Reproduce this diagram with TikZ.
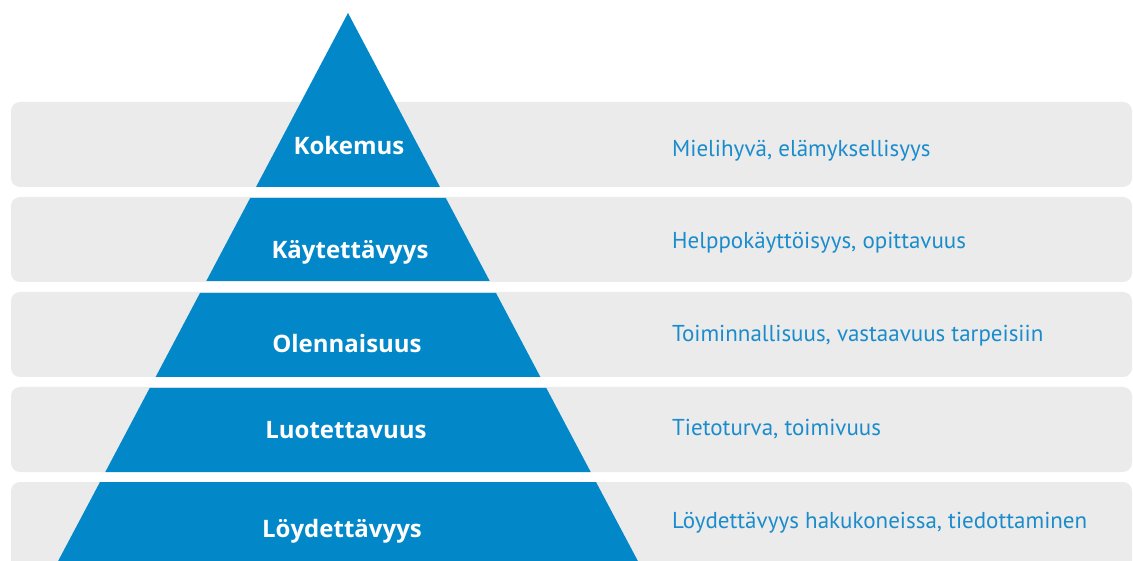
\documentclass[tikz,border=0pt]{standalone}
\usepackage{fontspec}
\setmainfont{PT Sans}
\newfontfamily\lvlfont{Open Sans}
\definecolor{pyrblue}{HTML}{0287C9}
\definecolor{txtblue}{HTML}{1A8CCC}
\definecolor{bandgray}{HTML}{EBEBEB}
\begin{document}
\begin{tikzpicture}[x=1pt,y=-1pt,
  band/.style={fill=bandgray, rounded corners=9pt},
  pyr/.style={fill=pyrblue},
  lvl/.style={anchor=base, inner sep=0pt, text=white, font=\lvlfont\fontsize{24}{24}\selectfont\bfseries},
  desc/.style={anchor=base west, inner sep=0pt, text=txtblue, font=\fontsize{23}{23}\selectfont}]
\useasboundingbox (0,0) rectangle (1133,561);
\clip (0,0) rectangle (1133,561);
% bands
\fill[band] (11,102) rectangle (1132,187);
\fill[band] (11,197) rectangle (1132,282);
\fill[band] (11,292) rectangle (1132,377);
\fill[band] (11,387) rectangle (1132,472);
\fill[band] (11,482) rectangle (1132,590);
% pyramid pieces
\fill[pyr] (348,13) -- (440,187) -- (256,187) -- cycle;
\fill[pyr] (250.2,198) -- (445.8,198) -- (489.7,281) -- (206.3,281) -- cycle;
\fill[pyr] (200,293) -- (496,293) -- (540.4,377) -- (155.6,377) -- cycle;
\fill[pyr] (149.7,388) -- (546.3,388) -- (590.7,472) -- (105.3,472) -- cycle;
\fill[pyr] (100,482) -- (596,482) -- (640,565) -- (56,565) -- cycle;
% level labels
\node[lvl] (l1) at (349,155) {Kokemus};
\node[lvl] (l2) at (350,259) {Käytettävyys};
\node[lvl] (l3) at (347,353) {Olennaisuus};
\node[lvl] (l4) at (346,438) {Luotettavuus};
\node[lvl] (l5) at (342,537) {Löydettävyys};
% descriptions
\node[desc] (d1) at (672,157) {Mielihyvä, elämyksellisyys};
\node[desc] (d2) at (672,249) {Helppokäyttöisyys, opittavuus};
\node[desc] (d3) at (672,342) {Toiminnallisuus, vastaavuus tarpeisiin};
\node[desc] (d4) at (672,435) {Tietoturva, toimivuus};
\node[desc] (d5) at (672,528) {Löydettävyys hakukoneissa, tiedottaminen};
\end{tikzpicture}
\end{document}
